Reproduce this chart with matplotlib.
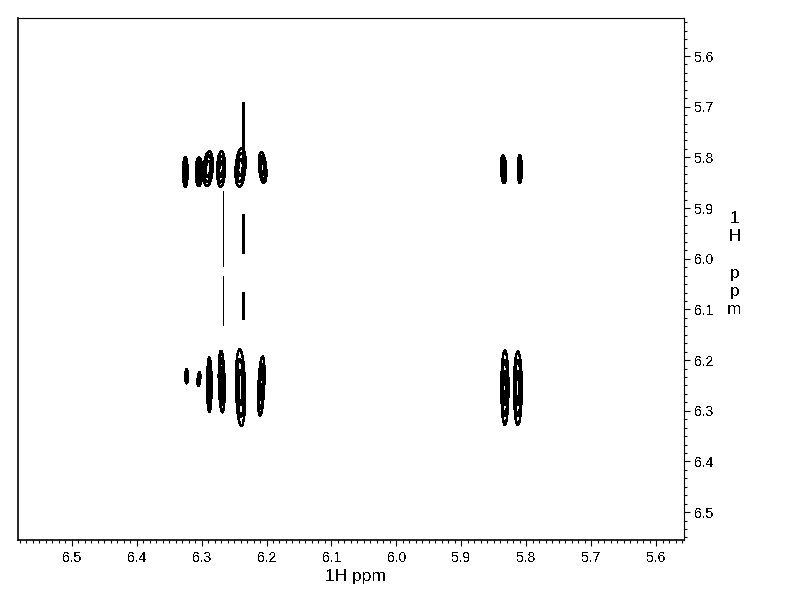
import matplotlib
matplotlib.use('Agg')
import matplotlib.pyplot as plt
from matplotlib.patches import Ellipse
from matplotlib.ticker import MultipleLocator, FormatStrFormatter

plt.rcParams['font.family'] = ['Liberation Sans', 'DejaVu Sans']
plt.rcParams['text.antialiased'] = False

# cross peaks (ppm)
peak_x = [6.325, 6.304, 6.290, 6.270, 6.240, 6.206, 5.835, 5.810,
          6.323, 6.304, 6.288, 6.269, 6.240, 6.208, 5.833, 5.813]
peak_top = [5.800, 5.800, 5.788, 5.788, 5.782, 5.790, 5.796, 5.795,
            6.218, 6.224, 6.195, 6.182, 6.179, 6.193, 6.181, 6.183]
peak_bottom = [5.858, 5.857, 5.857, 5.858, 5.858, 5.850, 5.851, 5.851,
               6.246, 6.251, 6.302, 6.303, 6.330, 6.310, 6.328, 6.328]
peak_width = [0.007, 0.010, 0.014, 0.012, 0.015, 0.011, 0.008, 0.006,
              0.004, 0.004, 0.007, 0.009, 0.014, 0.009, 0.011, 0.012]
peak_tilt = [0, 0, -3, -1, -3, 4, 2, 0,
             0, -4, 0, 1, 1, -2, 0, 0]

# thin vertical ridges
ridge_x_a = [6.267, 6.267]
ridge_top_a = [5.867, 6.035]
ridge_bottom_a = [6.015, 6.130]
ridge_x_b = [6.236, 6.236, 6.236]
ridge_top_b = [5.692, 5.913, 6.067]
ridge_bottom_b = [5.785, 5.987, 6.117]

x_ticks = [6.5, 6.4, 6.3, 6.2, 6.1, 6.0, 5.9, 5.8, 5.7, 5.6]
y_ticks = [5.6, 5.7, 5.8, 5.9, 6.0, 6.1, 6.2, 6.3, 6.4, 6.5]
levels = [1.0, 0.75, 0.45]

fig = plt.figure(figsize=(7.92, 6.12), dpi=100)
ax = fig.add_axes([18/792, 1-540/612, 665.5/792, 522/612])

for i in range(len(peak_x)):
    yc = (peak_top[i] + peak_bottom[i]) / 2
    h = peak_bottom[i] - peak_top[i]
    for lev in levels:
        e = Ellipse((peak_x[i], yc), peak_width[i]*lev, h*lev, angle=peak_tilt[i],
                    fill=False, edgecolor='black', linewidth=1.0, antialiased=False)
        ax.add_patch(e)

for i in range(len(ridge_x_a)):
    ax.plot([ridge_x_a[i], ridge_x_a[i]], [ridge_top_a[i], ridge_bottom_a[i]],
            color='black', lw=0.6, antialiased=False)
for i in range(len(ridge_x_b)):
    ax.plot([ridge_x_b[i], ridge_x_b[i]], [ridge_top_b[i], ridge_bottom_b[i]],
            color='black', lw=0.85, antialiased=False)

ax.set_xlim(6.5826, 5.558)
ax.set_ylim(6.555, 5.525)
ax.set_xticks(x_ticks)
ax.set_yticks(y_ticks)
ax.xaxis.set_major_formatter(FormatStrFormatter('%.1f'))
ax.yaxis.set_major_formatter(FormatStrFormatter('%.1f'))
ax.xaxis.set_minor_locator(MultipleLocator(0.01))
ax.yaxis.set_minor_locator(MultipleLocator(0.1/6))
ax.yaxis.tick_right()
ax.tick_params(which='major', length=4, width=0.8, labelsize=10, pad=4)
ax.tick_params(which='minor', length=2, width=0.8)
for s in ax.spines.values():
    s.set_linewidth(0.8)
ax.spines['left'].set_linewidth(1.2)
ax.spines['bottom'].set_linewidth(1.2)

fig.text(355.5/792, 1-576/612, '1H ppm', fontsize=12.5, ha='center', va='center')
fig.text(734.5/792, 1-264/612, '1\nH\n\np\np\nm', fontsize=12.5, ha='center', va='center',
         linespacing=1.26)

fig.savefig('out.png', dpi=100)
